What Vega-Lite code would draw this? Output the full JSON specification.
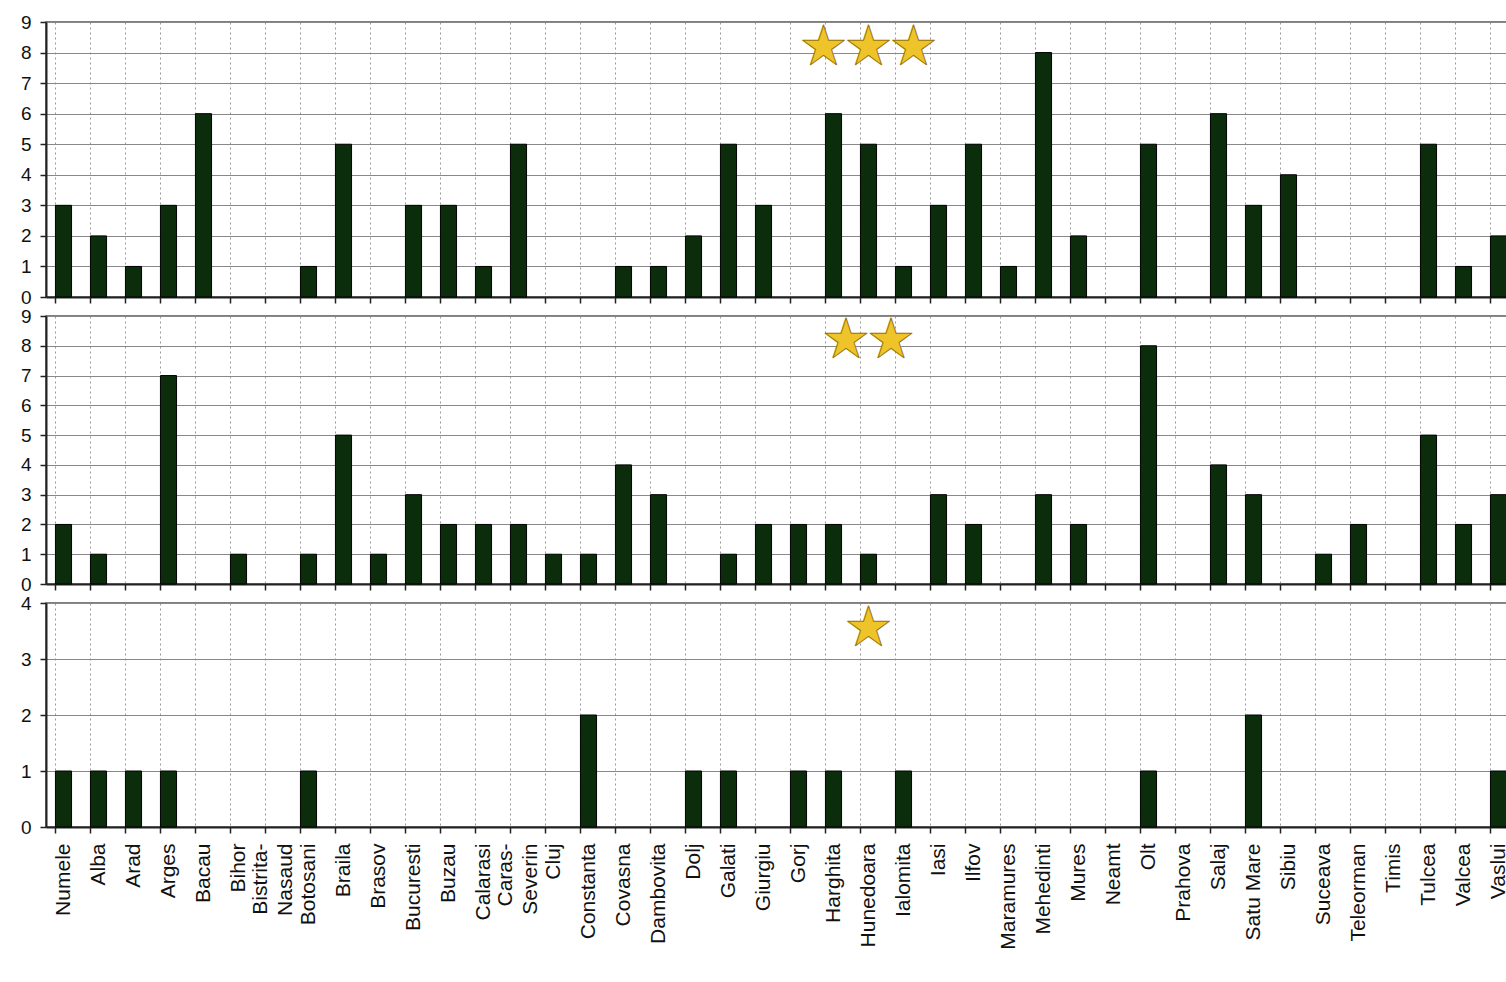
{
  "$schema": "https://vega.github.io/schema/vega-lite/v6.json",
  "padding": {"left": 19, "top": 12, "right": 0, "bottom": 5},
  "background": "white",
  "datasets": {
    "judete": [
      {"judet": "Numele", "s3": 3, "s2": 2, "s1": 1},
      {"judet": "Alba", "s3": 2, "s2": 1, "s1": 1},
      {"judet": "Arad", "s3": 1, "s2": 0, "s1": 1},
      {"judet": "Arges", "s3": 3, "s2": 7, "s1": 1},
      {"judet": "Bacau", "s3": 6, "s2": 0, "s1": 0},
      {"judet": "Bihor", "s3": 0, "s2": 1, "s1": 0},
      {"judet": "Bistrita-Nasaud", "s3": 0, "s2": 0, "s1": 0},
      {"judet": "Botosani", "s3": 1, "s2": 1, "s1": 1},
      {"judet": "Braila", "s3": 5, "s2": 5, "s1": 0},
      {"judet": "Brasov", "s3": 0, "s2": 1, "s1": 0},
      {"judet": "Bucuresti", "s3": 3, "s2": 3, "s1": 0},
      {"judet": "Buzau", "s3": 3, "s2": 2, "s1": 0},
      {"judet": "Calarasi", "s3": 1, "s2": 2, "s1": 0},
      {"judet": "Caras-Severin", "s3": 5, "s2": 2, "s1": 0},
      {"judet": "Cluj", "s3": 0, "s2": 1, "s1": 0},
      {"judet": "Constanta", "s3": 0, "s2": 1, "s1": 2},
      {"judet": "Covasna", "s3": 1, "s2": 4, "s1": 0},
      {"judet": "Dambovita", "s3": 1, "s2": 3, "s1": 0},
      {"judet": "Dolj", "s3": 2, "s2": 0, "s1": 1},
      {"judet": "Galati", "s3": 5, "s2": 1, "s1": 1},
      {"judet": "Giurgiu", "s3": 3, "s2": 2, "s1": 0},
      {"judet": "Gorj", "s3": 0, "s2": 2, "s1": 1},
      {"judet": "Harghita", "s3": 6, "s2": 2, "s1": 1},
      {"judet": "Hunedoara", "s3": 5, "s2": 1, "s1": 0},
      {"judet": "Ialomita", "s3": 1, "s2": 0, "s1": 1},
      {"judet": "Iasi", "s3": 3, "s2": 3, "s1": 0},
      {"judet": "Ilfov", "s3": 5, "s2": 2, "s1": 0},
      {"judet": "Maramures", "s3": 1, "s2": 0, "s1": 0},
      {"judet": "Mehedinti", "s3": 8, "s2": 3, "s1": 0},
      {"judet": "Mures", "s3": 2, "s2": 2, "s1": 0},
      {"judet": "Neamt", "s3": 0, "s2": 0, "s1": 0},
      {"judet": "Olt", "s3": 5, "s2": 8, "s1": 1},
      {"judet": "Prahova", "s3": 0, "s2": 0, "s1": 0},
      {"judet": "Salaj", "s3": 6, "s2": 4, "s1": 0},
      {"judet": "Satu Mare", "s3": 3, "s2": 3, "s1": 2},
      {"judet": "Sibiu", "s3": 4, "s2": 0, "s1": 0},
      {"judet": "Suceava", "s3": 0, "s2": 1, "s1": 0},
      {"judet": "Teleorman", "s3": 0, "s2": 2, "s1": 0},
      {"judet": "Timis", "s3": 0, "s2": 0, "s1": 0},
      {"judet": "Tulcea", "s3": 5, "s2": 5, "s1": 0},
      {"judet": "Valcea", "s3": 1, "s2": 2, "s1": 0},
      {"judet": "Vaslui", "s3": 2, "s2": 3, "s1": 1}
    ],
    "stele": [
      {"panou": 3, "judet": "Hunedoara", "nivel": 8.15, "stele": "★★★"},
      {"panou": 2, "judet": "Hunedoara", "nivel": 8.15, "stele": "★★"},
      {"panou": 1, "judet": "Hunedoara", "nivel": 3.53, "stele": "★"}
    ]
  },
  "config": {
    "font": "Liberation Sans",
    "view": {"stroke": "#555", "strokeWidth": 1.5},
    "bar": {"fill": "#0c2d0c", "stroke": "#000", "strokeWidth": 1},
    "text": {"font": "Noto Sans CJK JP", "fontSize": 45, "fill": "#eec42a", "stroke": "#9a7400", "strokeWidth": 1, "baseline": "middle", "align": "center"},
    "axisX": {
      "title": null, "bandPosition": 0, "tickSize": 6, "grid": true,
      "gridDash": [2, 3], "gridColor": "#999", "gridWidth": 1,
      "domainColor": "#222", "domainWidth": 2, "tickColor": "#222", "tickWidth": 1.5,
      "labelFontSize": 21, "labelColor": "#111", "labelPadding": 10, "labelLineHeight": 25
    },
    "axisY": {
      "title": null, "grid": true, "gridColor": "#888", "gridWidth": 1, "format": "d",
      "tickSize": 6, "tickColor": "#222", "tickWidth": 1.5, "labelPadding": 9,
      "labelFontSize": 19, "labelColor": "#111",
      "domainColor": "#222", "domainWidth": 2
    }
  },
  "spacing": 19,
  "bounds": "flush",
  "resolve": {"scale": {"y": "independent"}},
  "vconcat": [
    {
      "width": 1470, "height": 275,
      "layer": [
        {
          "data": {"name": "judete"},
          "mark": "bar",
          "encoding": {
            "x": {"field": "judet", "type": "nominal", "sort": null, "scale": {"paddingInner": 0.54, "paddingOuter": 0.27}, "axis": {"labels": false}},
            "y": {"field": "s3", "type": "quantitative", "scale": {"domain": [0, 9], "nice": false}, "axis": {"values": [0, 1, 2, 3, 4, 5, 6, 7, 8, 9]}},
            "strokeOpacity": {"condition": {"test": "datum.s3 == 0", "value": 0}, "value": 1}
          }
        },
        {
          "data": {"name": "stele"},
          "transform": [{"filter": "datum.panou == 3"}],
          "mark": "text",
          "encoding": {
            "x": {"field": "judet", "type": "nominal", "sort": null, "axis": {"labels": false}},
            "y": {"field": "nivel", "type": "quantitative", "axis": {"values": [0, 1, 2, 3, 4, 5, 6, 7, 8, 9]}},
            "text": {"field": "stele"}
          }
        }
      ]
    },
    {
      "width": 1470, "height": 268,
      "layer": [
        {
          "data": {"name": "judete"},
          "mark": "bar",
          "encoding": {
            "x": {"field": "judet", "type": "nominal", "sort": null, "scale": {"paddingInner": 0.54, "paddingOuter": 0.27}, "axis": {"labels": false}},
            "y": {"field": "s2", "type": "quantitative", "scale": {"domain": [0, 9], "nice": false}, "axis": {"values": [0, 1, 2, 3, 4, 5, 6, 7, 8, 9]}},
            "strokeOpacity": {"condition": {"test": "datum.s2 == 0", "value": 0}, "value": 1}
          }
        },
        {
          "data": {"name": "stele"},
          "transform": [{"filter": "datum.panou == 2"}],
          "mark": "text",
          "encoding": {
            "x": {"field": "judet", "type": "nominal", "sort": null, "axis": {"labels": false}},
            "y": {"field": "nivel", "type": "quantitative", "axis": {"values": [0, 1, 2, 3, 4, 5, 6, 7, 8, 9]}},
            "text": {"field": "stele"}
          }
        }
      ]
    },
    {
      "width": 1470, "height": 224,
      "layer": [
        {
          "data": {"name": "judete"},
          "mark": "bar",
          "encoding": {
            "x": {"field": "judet", "type": "nominal", "sort": null, "scale": {"paddingInner": 0.54, "paddingOuter": 0.27},
                  "axis": {"labelAngle": -90,
                           "labelOffset": {"condition": {"test": "indexof(datum.label, '-') > 0", "value": -12.5}, "value": 0},
                           "labelExpr": "indexof(datum.label, '-') > 0 ? [slice(datum.label, 0, indexof(datum.label, '-') + 1), slice(datum.label, indexof(datum.label, '-') + 1)] : datum.label"}},
            "y": {"field": "s1", "type": "quantitative", "scale": {"domain": [0, 4], "nice": false}, "axis": {"values": [0, 1, 2, 3, 4]}},
            "strokeOpacity": {"condition": {"test": "datum.s1 == 0", "value": 0}, "value": 1}
          }
        },
        {
          "data": {"name": "stele"},
          "transform": [{"filter": "datum.panou == 1"}],
          "mark": "text",
          "encoding": {
            "x": {"field": "judet", "type": "nominal", "sort": null},
            "y": {"field": "nivel", "type": "quantitative", "axis": {"values": [0, 1, 2, 3, 4]}},
            "text": {"field": "stele"}
          }
        }
      ]
    }
  ]
}
